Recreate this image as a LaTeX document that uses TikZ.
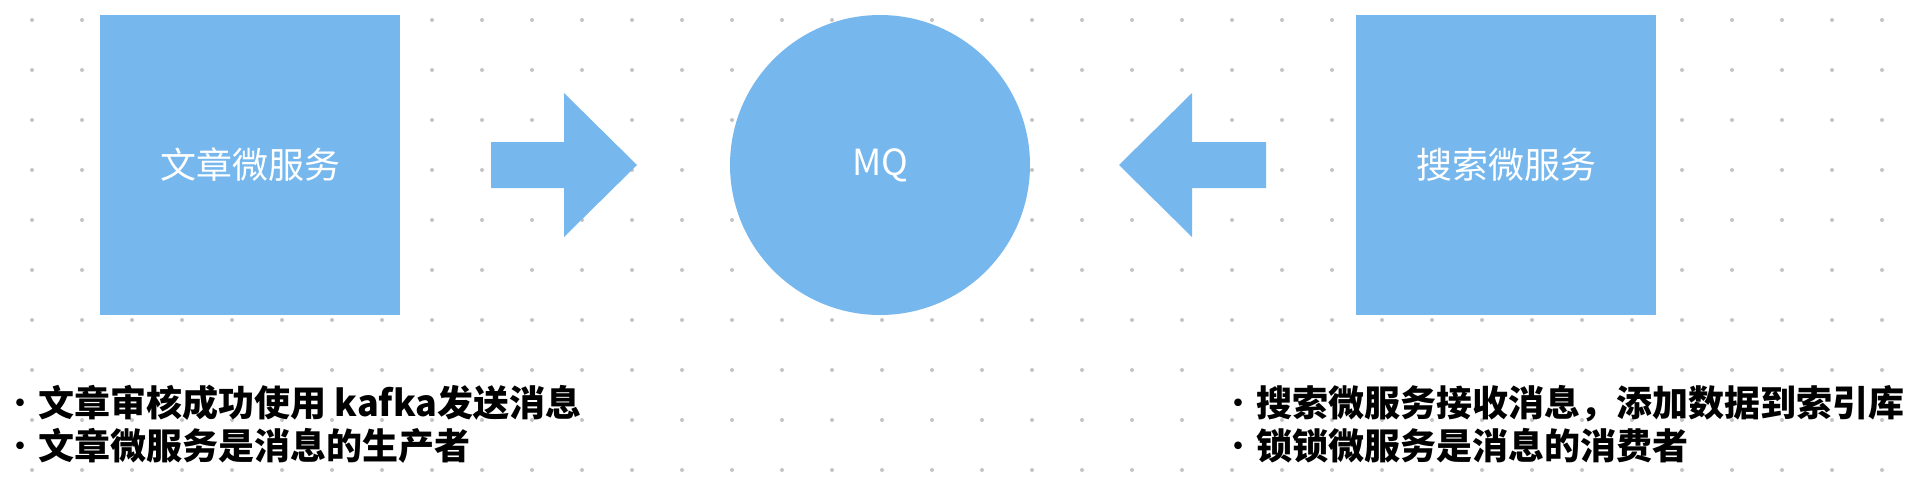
\documentclass[tikz,border=0pt]{standalone}
\usepackage{fontspec}
\usepackage{xcolor}
\usepackage{tikz}
\newfontfamily\cjk{Noto Sans CJK SC}
\definecolor{mqblue}{RGB}{118, 184, 238}
\definecolor{dotgray}{RGB}{196, 196, 196}
\newcommand{\pt}{{\mdseries ·}}
\tikzset{
  svcbox/.style={fill=mqblue, minimum width=150pt, minimum height=150pt, inner sep=0pt, text=white, font=\cjk\fontsize{18pt}{22pt}\selectfont},
  mqball/.style={circle, fill=mqblue, minimum size=150pt, inner sep=0pt, text=white, font=\cjk\fontsize{18pt}{22pt}\selectfont},
  blockarrow/.style={fill=mqblue},
  noteline/.style={anchor=base west, inner sep=0pt, font=\cjk\bfseries\fontsize{18pt}{22pt}\selectfont}
}

\begin{document}
\begin{tikzpicture}[x=0.5pt,y=0.5pt,yscale=-1,xscale=1]
\useasboundingbox (0,0) rectangle (1924,478);
\fill[white] (0,0) rectangle (1924,478);

%Dot grid
\foreach \i in {0,...,37}
  \foreach \j in {0,...,9}
    \fill[dotgray] (32+50*\i,20+50*\j) circle (1pt);

%Shape: Rectangle [producer]
\node[svcbox] (article) at (250,165) {文章微服务};
%Shape: Circle [queue]
\node[mqball] (mq) at (880,165) {MQ};
%Shape: Rectangle [consumer]
\node[svcbox] (search) at (1506,165) {搜索微服务};

%Shape: Right Arrow
\fill[blockarrow] (491,142) -- (564,142) -- (564,93) -- (637,165) -- (564,237) -- (564,188) -- (491,188) -- cycle;
%Shape: Left Arrow
\fill[blockarrow] (1266,142) -- (1192,142) -- (1192,93) -- (1119,165) -- (1192,237) -- (1192,188) -- (1266,188) -- cycle;

% Text Node
\node[noteline] (artnote1) at (2,416) {\pt 文章审核成功使用 kafka发送消息};
% Text Node
\node[noteline] (artnote2) at (2,459) {\pt 文章微服务是消息的生产者};
% Text Node
\node[noteline] (srchnote1) at (1220,416) {\pt 搜索微服务接收消息，添加数据到索引库};
% Text Node
\node[noteline] (srchnote2) at (1220,459) {\pt 锁锁微服务是消息的消费者};

\end{tikzpicture}
\end{document}
